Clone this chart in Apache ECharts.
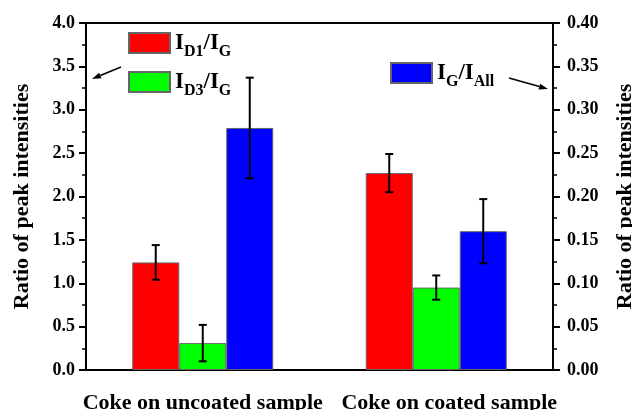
<!DOCTYPE html>
<html>
<head>
<meta charset="utf-8">
<script src="https://cdn.jsdelivr.net/npm/echarts@6/dist/echarts.min.js"></script>
<style>
    html, body { margin: 0; padding: 0; background: #fff; }
    #chart { width: 632px; height: 410px; }
</style>
</head>
<body>
<div id="chart"></div>
<script>
// data
var categories = ['Coke on uncoated sample', 'Coke on coated sample'];
var d1Ratio = [1.24, 2.27];
var d1Err = [0.20, 0.22];
var d3Ratio = [0.31, 0.95];
var d3Err = [0.21, 0.14];
var gAllRatio = [0.279, 0.160];
var gAllErr = [0.058, 0.037];
var leftTicks = [0, 4, 0.5];
var rightTicks = [0, 0.4, 0.05];

var FONT = '"Liberation Serif", "Times New Roman", serif';

function errData(vals, errs) {
    return vals.map(function (v, i) {
        return [i, v - errs[i], v + errs[i]];
    });
}

// error bar drawn at the n-th bar slot of the category
function errSeries(vals, errs, slot, yIdx) {
    return {
        type: 'custom',
        yAxisIndex: yIdx,
        z: 5,
        silent: true,
        data: errData(vals, errs),
        renderItem: function (params, api) {
            var layout = api.barLayout({ barWidth: 47, barGap: '0%', count: 3 });
            var lo = api.coord([api.value(0), api.value(1)]);
            var hi = api.coord([api.value(0), api.value(2)]);
            var x = lo[0] + layout[slot].offsetCenter;
            var cap = 4;
            var st = { stroke: '#000', lineWidth: 2 };
            return {
                type: 'group',
                children: [
                    { type: 'line', shape: { x1: x, y1: lo[1], x2: x, y2: hi[1] }, style: st },
                    { type: 'line', shape: { x1: x - cap, y1: lo[1], x2: x + cap, y2: lo[1] }, style: st },
                    { type: 'line', shape: { x1: x - cap, y1: hi[1], x2: x + cap, y2: hi[1] }, style: st }
                ]
            };
        }
    };
}

// small arrow annotation
function arrow(x1, y1, x2, y2) {
    var dx = x2 - x1, dy = y2 - y1;
    var len = Math.sqrt(dx * dx + dy * dy);
    var ux = dx / len, uy = dy / len;
    var bx = x2 - 9 * ux, by = y2 - 9 * uy;
    return [
        { type: 'line', shape: { x1: x1, y1: y1, x2: bx, y2: by }, style: { stroke: '#000', lineWidth: 1.5 } },
        {
            type: 'polygon',
            shape: { points: [[x2, y2], [bx - 3 * uy, by + 3 * ux], [bx + 3 * uy, by - 3 * ux]] },
            style: { fill: '#000' }
        }
    ];
}

var richText = {
    m: { fontFamily: FONT, fontWeight: 'bold', fontSize: 23, color: '#000', verticalAlign: 'bottom', lineHeight: 24 },
    s: { fontFamily: FONT, fontWeight: 'bold', fontSize: 16, color: '#000', verticalAlign: 'bottom', lineHeight: 16, padding: [0, 0, -5, 0] }
};

var legendNames = {
    'ID1/IG': '{m|I}{s|D1}{m|/I}{s|G}',
    'ID3/IG': '{m|I}{s|D3}{m|/I}{s|G}',
    'IG/IAll': '{m|I}{s|G}{m|/I}{s|All}'
};

var myChart = echarts.init(document.getElementById('chart'));

var axisFont = { fontFamily: FONT, fontWeight: 'bold', fontSize: 18, color: '#000' };

// the second label sits a little right of its tick in the original
var catItems = categories.map(function (c, i) {
    return i === 1 ? { value: c, textStyle: { padding: [0, 0, 0, 26] } } : c;
});

var option = {
    animation: false,
    backgroundColor: '#fff',
    grid: {
        left: 86,
        right: 79,
        top: 23,
        bottom: 40,
        outerBoundsMode: 'none',
        show: true,
        borderColor: '#000',
        borderWidth: 2
    },
    legend: [
        {
            data: ['ID1/IG', 'ID3/IG'],
            orient: 'vertical',
            left: 128,
            top: 32,
            padding: 0,
            itemWidth: 41,
            itemHeight: 20,
            itemGap: 11,
            icon: 'rect',
            selectedMode: false,
            formatter: function (name) { return legendNames[name]; },
            textStyle: { rich: richText }
        },
        {
            data: ['IG/IAll'],
            orient: 'vertical',
            left: 390,
            top: 62,
            padding: 0,
            itemWidth: 41,
            itemHeight: 20,
            icon: 'rect',
            selectedMode: false,
            formatter: function (name) { return legendNames[name]; },
            textStyle: { rich: richText }
        }
    ],
    xAxis: {
        type: 'category',
        data: catItems,
        axisLine: { lineStyle: { color: '#000', width: 2 } },
        axisTick: { alignWithLabel: true, length: 7, lineStyle: { color: '#000', width: 2 } },
        axisLabel: {
            margin: 22,
            fontFamily: FONT, fontWeight: 'bold', fontSize: 22, color: '#000',
            interval: 0
        }
    },
    yAxis: [
        {
            type: 'value',
            min: leftTicks[0],
            max: leftTicks[1],
            interval: leftTicks[2],
            name: 'Ratio of peak intensities',
            nameLocation: 'middle',
            nameRotate: 90,
            nameGap: 53,
            nameTextStyle: { fontFamily: FONT, fontWeight: 'bold', fontSize: 22, color: '#000' },
            axisLine: { show: true, lineStyle: { color: '#000', width: 2 } },
            axisTick: { show: true, length: 7, lineStyle: { color: '#000', width: 2 } },
            minorTick: { show: true, splitNumber: 2, length: 4, lineStyle: { color: '#000', width: 1.5 } },
            splitLine: { show: false },
            axisLabel: Object.assign({ margin: 11, formatter: function (v) { return v.toFixed(1); } }, axisFont)
        },
        {
            type: 'value',
            position: 'right',
            min: rightTicks[0],
            max: rightTicks[1],
            interval: rightTicks[2],
            name: 'Ratio of peak intensities',
            nameLocation: 'middle',
            nameRotate: 90,
            nameGap: 61,
            nameTextStyle: { fontFamily: FONT, fontWeight: 'bold', fontSize: 22, color: '#000' },
            axisLine: { show: true, lineStyle: { color: '#000', width: 2 } },
            axisTick: { show: true, length: 7, lineStyle: { color: '#000', width: 2 } },
            minorTick: { show: true, splitNumber: 2, length: 4, lineStyle: { color: '#000', width: 1.5 } },
            splitLine: { show: false },
            axisLabel: Object.assign({ margin: 14, formatter: function (v) { return v.toFixed(2); } }, axisFont)
        }
    ],
    series: [
        {
            name: 'ID1/IG',
            type: 'bar',
            data: d1Ratio,
            barWidth: 47,
            barGap: '0%',
            itemStyle: { color: '#ff0000', borderColor: '#666', borderWidth: 1 }
        },
        {
            name: 'ID3/IG',
            type: 'bar',
            data: d3Ratio,
            barWidth: 47,
            barGap: '0%',
            itemStyle: { color: '#00ff00', borderColor: '#666', borderWidth: 1 }
        },
        {
            name: 'IG/IAll',
            type: 'bar',
            yAxisIndex: 1,
            data: gAllRatio,
            barWidth: 47,
            barGap: '0%',
            itemStyle: { color: '#0000ff', borderColor: '#666', borderWidth: 1 }
        },
        errSeries(d1Ratio, d1Err, 0, 0),
        errSeries(d3Ratio, d3Err, 1, 0),
        errSeries(gAllRatio, gAllErr, 2, 1)
    ],
    graphic: arrow(121, 67, 92, 79).concat(arrow(509, 78, 548, 89))
};

myChart.setOption(option);
</script>
</body>
</html>
